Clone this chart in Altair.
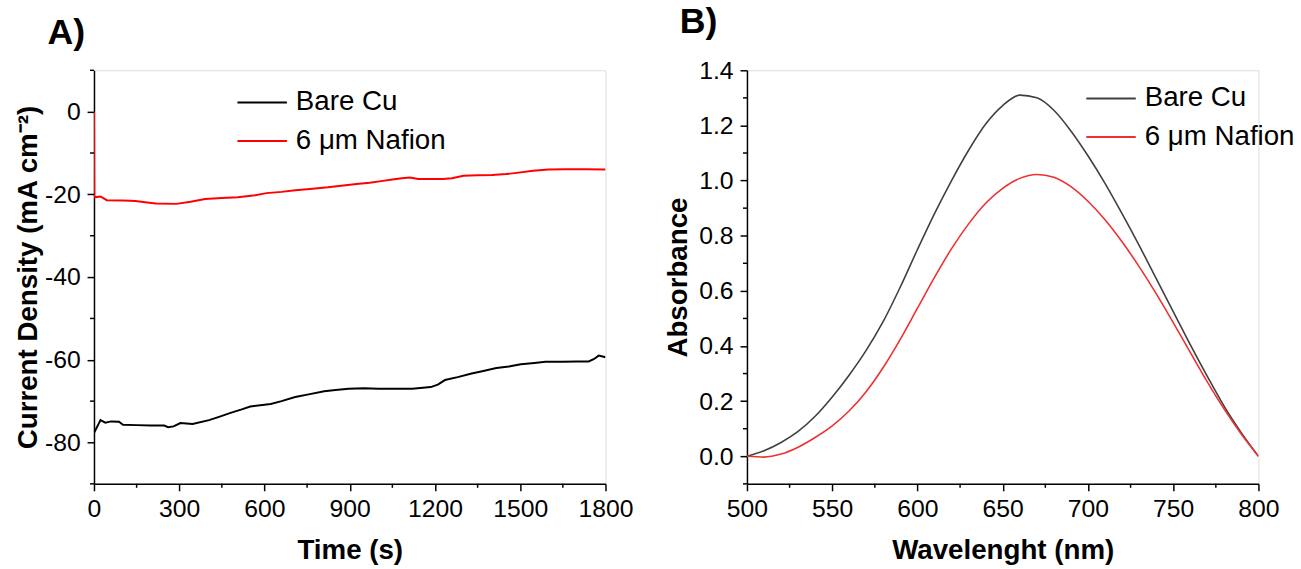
import altair as alt
import pandas as pd

FONT = "Liberation Sans"

# ---------------- Panel A: chronoamperometry ----------------
series_names = ["Bare Cu", "6 μm Nafion"]

bare_t = [0, 23, 40, 60, 88, 102, 150, 200, 247, 261, 280, 304, 347, 405, 440, 478, 520, 550,
          622, 660, 708, 760, 810, 850, 896, 950, 1000, 1055, 1120, 1185, 1210, 1235, 1280,
          1329, 1370, 1416, 1460, 1502, 1550, 1589, 1650, 1700, 1741, 1760, 1776, 1790, 1800]
bare_j = [-77.7, -74.6, -75.2, -74.9, -75.0, -75.7, -75.8, -75.9, -75.9, -76.3, -76.1, -75.3,
          -75.5, -74.6, -73.8, -72.9, -72.0, -71.3, -70.7, -70.0, -69.0, -68.3, -67.6, -67.3,
          -67.0, -66.9, -67.0, -67.0, -67.0, -66.6, -66.0, -64.9, -64.2, -63.3, -62.7, -62.0,
          -61.6, -61.1, -60.8, -60.5, -60.5, -60.4, -60.4, -59.8, -59.0, -59.2, -59.4]

naf_t = [0, 1, 23, 45, 100, 146, 180, 218, 290, 340, 391, 450, 506, 560, 607, 660, 708, 760,
         823, 870, 924, 970, 1011, 1050, 1083, 1112, 1141, 1180, 1228, 1260, 1300, 1350, 1401,
         1450, 1488, 1545, 1600, 1660, 1730, 1800]
naf_j = [0.0, -20.7, -20.5, -21.4, -21.5, -21.6, -21.9, -22.2, -22.3, -21.8, -21.1, -20.9,
         -20.7, -20.3, -19.7, -19.4, -19.0, -18.7, -18.3, -17.9, -17.5, -17.2, -16.8, -16.4,
         -16.1, -15.9, -16.3, -16.3, -16.3, -16.1, -15.5, -15.4, -15.3, -15.1, -14.8, -14.3,
         -14.0, -13.9, -13.9, -14.0]

time_ticks = [0, 300, 600, 900, 1200, 1500, 1800]
time_minor = [150, 450, 750, 1050, 1350, 1650]
cd_ticks = [0, -20, -40, -60, -80]
cd_minor = [10, -10, -30, -50, -70, -90]

# ---------------- Panel B: UV-vis absorbance ----------------
wl = [500, 510, 520, 530, 540, 550, 560, 570, 580, 590, 600, 610, 620, 630, 640, 650, 660,
      670, 680, 690, 700, 710, 720, 730, 740, 750, 760, 770, 780, 790, 800]
abs_bare = [0.0, 0.02, 0.05, 0.09, 0.145, 0.215, 0.295, 0.385, 0.49, 0.615, 0.75, 0.88, 1.0,
            1.11, 1.205, 1.272, 1.31, 1.3, 1.255, 1.18, 1.09, 0.99, 0.88, 0.765, 0.645, 0.525,
            0.405, 0.29, 0.18, 0.085, 0.0]
abs_naf = [0.0, -0.003, 0.008, 0.033, 0.068, 0.11, 0.165, 0.235, 0.323, 0.425, 0.537, 0.649,
           0.753, 0.843, 0.918, 0.972, 1.008, 1.022, 1.012, 0.978, 0.925, 0.858, 0.778, 0.688,
           0.59, 0.485, 0.377, 0.27, 0.17, 0.08, 0.0]

wl_ticks = [500, 550, 600, 650, 700, 750, 800]
wl_minor = [525, 575, 625, 675, 725, 775]
abs_ticks = [0.0, 0.2, 0.4, 0.6, 0.8, 1.0, 1.2, 1.4]
abs_minor = [-0.1, 0.1, 0.3, 0.5, 0.7, 0.9, 1.1, 1.3]

W, H = 517, 418

dfA = pd.DataFrame({
    "t": bare_t + naf_t,
    "j": bare_j + naf_j,
    "s": [series_names[0]] * len(bare_t) + [series_names[1]] * len(naf_t),
    "o": list(range(len(bare_t))) + list(range(len(naf_t))),
})
dfB = pd.DataFrame({
    "w": wl + wl,
    "a": abs_bare + abs_naf,
    "s": [series_names[0]] * len(wl) + [series_names[1]] * len(wl),
})


def axis(values, title, fmt=None, expr=None, lab_pad=5, title_pad=8):
    kw = dict(values=values, title=title, grid=False, tickSize=7, tickWidth=1.5,
              tickColor="black", domainColor="black", domainWidth=1.5,
              labelFont=FONT, labelFontSize=25, labelColor="black", labelPadding=lab_pad,
              titleFont=FONT, titleFontSize=28, titleFontWeight="bold", titleColor="black",
              titlePadding=title_pad, labelFlush=False, labelOverlap=False)
    if fmt:
        kw["format"] = fmt
    if expr:
        kw["labelExpr"] = expr
    return alt.Axis(**kw)


def legend(x, y):
    return alt.Legend(title=None, orient="none", legendX=x, legendY=y, symbolType="stroke",
                      symbolSize=2500, symbolStrokeWidth=2, labelFont=FONT, labelFontSize=28,
                      labelColor="black", labelOffset=8, clipHeight=39, rowPadding=0,
                      padding=0)


def minor_y(vals, field):
    d = pd.DataFrame({field: vals})
    return alt.Chart(d).mark_rule(color="black", strokeWidth=1.5).encode(
        y=alt.Y(f"{field}:Q"), x=alt.value(-4), x2=alt.value(0))


def minor_x(vals, field):
    d = pd.DataFrame({field: vals})
    return alt.Chart(d).mark_rule(color="black", strokeWidth=1.5).encode(
        x=alt.X(f"{field}:Q"), y=alt.value(H), y2=alt.value(H + 4))


xA = alt.X("t:Q", scale=alt.Scale(domain=[0, 1800], nice=False),
           axis=axis(time_ticks, "Time (s)", expr="datum.value + ''", lab_pad=6, title_pad=15))
yA = alt.Y("j:Q", scale=alt.Scale(domain=[-90, 10], nice=False),
           axis=axis(cd_ticks, "Current Density (mA cm⁻²)", expr="datum.value + ''",
                     lab_pad=7, title_pad=2))

linesA = alt.Chart(dfA).mark_line(strokeWidth=2, clip=True).encode(
    x=xA, y=yA, order="o:Q",
    color=alt.Color("s:N", scale=alt.Scale(domain=series_names, range=["#000000", "#ff0000"]),
                    sort=series_names, legend=legend(144, 13)),
)
panelA = alt.layer(
    linesA,
    minor_y(cd_minor, "j"),
    minor_x(time_minor, "t"),
).properties(
    width=W, height=H,
    title=alt.TitleParams("A)", anchor="start", frame="group", dx=-47, fontSize=36,
                          fontWeight="bold", font=FONT, color="black", offset=18),
)

xB = alt.X("w:Q", scale=alt.Scale(domain=[500, 800], nice=False),
           axis=axis(wl_ticks, "Wavelenght (nm)", lab_pad=6, title_pad=15))
yB = alt.Y("a:Q", scale=alt.Scale(domain=[-0.1, 1.4], nice=False),
           axis=axis(abs_ticks, "Absorbance", fmt=".1f", lab_pad=7, title_pad=6))

linesB = alt.Chart(dfB).mark_line(strokeWidth=1.6, interpolate="monotone", clip=True).encode(
    x=xB, y=yB,
    color=alt.Color("s:N", scale=alt.Scale(domain=series_names, range=["#404040", "#ee3030"]),
                    sort=series_names, legend=legend(342, 9)),
)
panelB = alt.layer(
    linesB,
    minor_y(abs_minor, "a"),
    minor_x(wl_minor, "w"),
).properties(
    width=W, height=H,
    title=alt.TitleParams("B)", anchor="start", frame="group", dx=-68, fontSize=36,
                          fontWeight="bold", font=FONT, color="black", offset=18),
)

chart = alt.hconcat(panelA, panelB, spacing=30).resolve_scale(color="independent").properties(
    padding={"left": 14, "top": 0, "right": 5, "bottom": 0},
).configure_view(strokeWidth=0).configure(font=FONT)

chart.save("out.html", embed_options={"renderer": "svg", "actions": False})
